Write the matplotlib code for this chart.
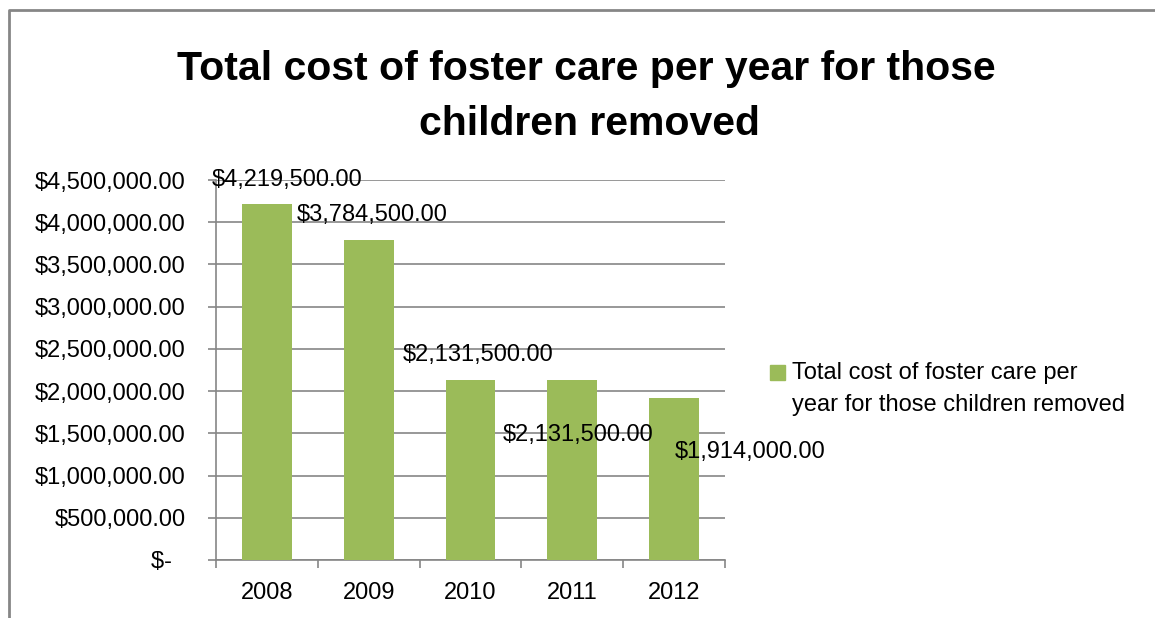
import matplotlib.pyplot as plt
from matplotlib.lines import Line2D
import numpy as np

# Data
years = ["2008", "2009", "2010", "2011", "2012"]
costs = [4219500, 3784500, 2131500, 2131500, 1914000]
series_name = "Total cost of foster care per year for those children removed"
y_ticks = [0, 500000, 1000000, 1500000, 2000000, 2500000, 3000000, 3500000, 4000000, 4500000]

# Where Excel put the data labels (category offset, value)
label_pos = [(0.2, 4500000), (1.03, 4085000), (2.07, 2430000), (3.06, 1480000), (4.75, 1280000)]

GREEN = "#9BBB59"
GRID = "#868686"
FONT = "Liberation Sans"
FS = 17

plt.rcParams["font.family"] = [FONT, "DejaVu Sans"]

fig = plt.figure(figsize=(11.55, 6.18), dpi=100)
ax = fig.add_axes([0.187, 0.0939, 0.4407, 0.6148])

x = np.arange(len(years))
ax.bar(x, costs, width=0.49, color=GREEN, zorder=3)

ax.set_xlim(-0.5, len(years) - 0.5)
ax.set_ylim(0, 4500000)

# gridlines
ax.set_yticks(y_ticks)
ax.yaxis.grid(True, color=GRID, linewidth=1.2, zorder=0)
ax.set_yticklabels(["$-  "] + [f"${v:,.2f}" for v in y_ticks[1:]], fontsize=FS)
ax.tick_params(axis="y", length=6, color=GRID, width=1.2, pad=16)

ax.set_xticks(x)
ax.set_xticklabels(years, fontsize=FS)
ax.tick_params(axis="x", length=0, pad=16)
ax.set_xticks(np.arange(-0.5, len(years)), minor=True)
ax.tick_params(axis="x", which="minor", length=6, color=GRID, width=1.2)

for side in ["top", "right"]:
    ax.spines[side].set_visible(False)
for side in ["left", "bottom"]:
    ax.spines[side].set_color(GRID)
    ax.spines[side].set_linewidth(1.2)

# data labels
for (dx, dy), v in zip(label_pos, costs):
    ax.text(dx, dy, f"${v:,.2f}", ha="center", va="center", fontsize=FS, zorder=4)

# title
fig.text(0.508, 0.888, "Total cost of foster care per year for those", ha="center", va="center",
         fontsize=29.5, fontweight="bold")
fig.text(0.51, 0.8, "children removed", ha="center", va="center",
         fontsize=29.5, fontweight="bold")

# legend
fig.patches.append(plt.Rectangle((0.667, 0.385), 0.0125, 0.024, transform=fig.transFigure,
                                 color=GREEN, figure=fig))
fig.text(0.686, 0.397, "Total cost of foster care per", ha="left", va="center", fontsize=FS)
fig.text(0.686, 0.344, "year for those children removed", ha="left", va="center", fontsize=FS)

# outer chart border (cropped)
fig.lines.append(Line2D([0.0075, 0.0075, 1.0], [0.0, 0.984, 0.984], transform=fig.transFigure,
                        color=GRID, linewidth=2))

fig.savefig("out.png", dpi=100)
